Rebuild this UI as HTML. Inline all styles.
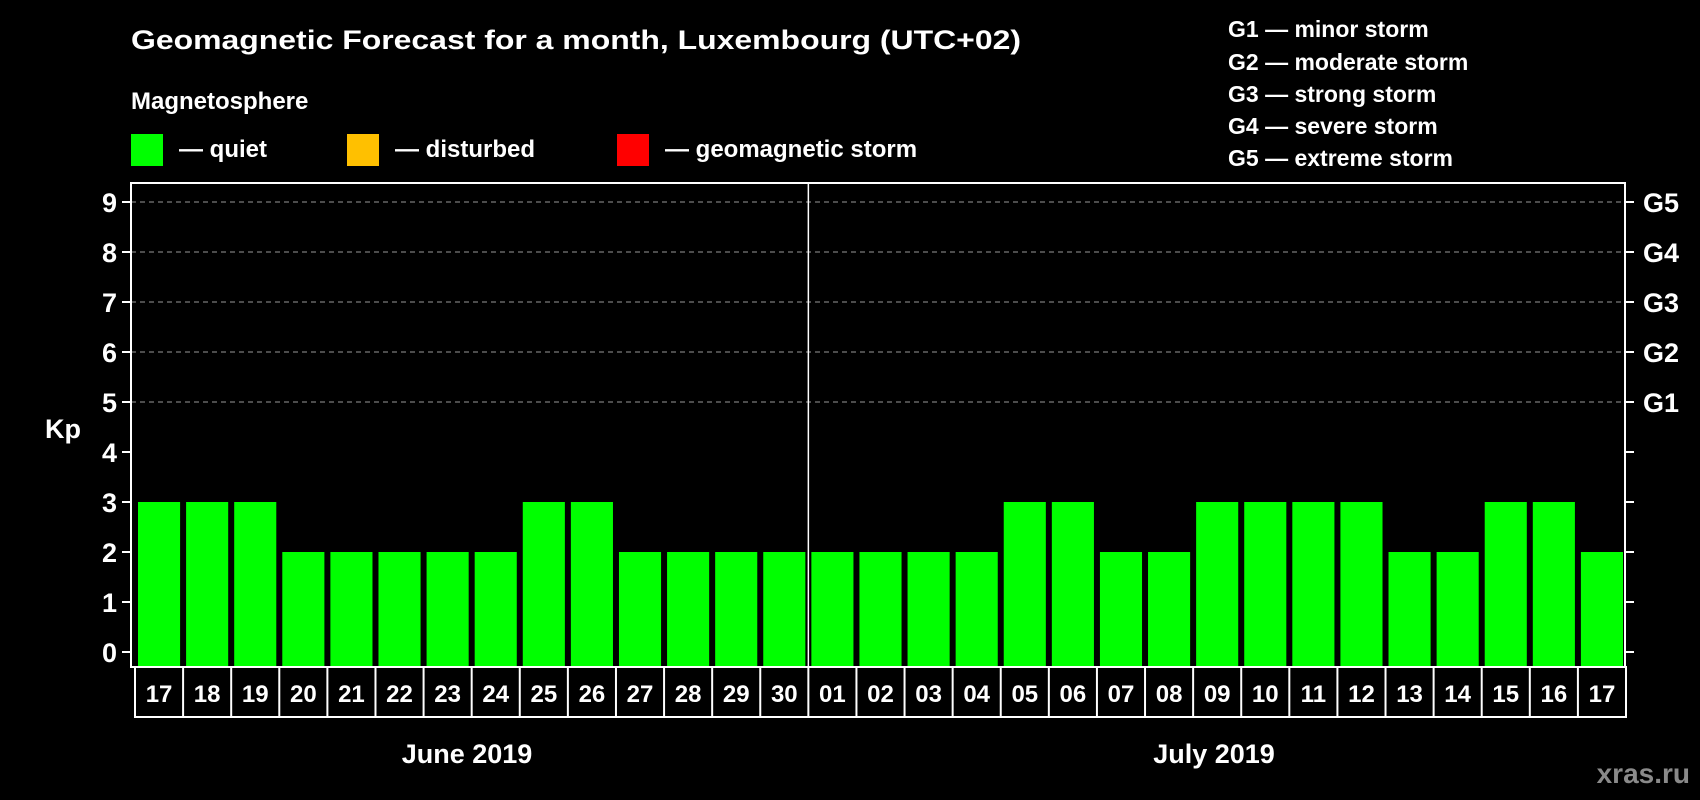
<!DOCTYPE html>
<html><head><meta charset="utf-8"><style>
html,body{margin:0;padding:0;background:#000;}
svg{display:block;font-family:"Liberation Sans",Arial,sans-serif;font-weight:bold;}
</style></head><body>
<svg id="chart" width="1700" height="800" viewBox="0 0 1700 800" xmlns="http://www.w3.org/2000/svg">
<rect x="0" y="0" width="1700" height="800" fill="#000"/>
<text x="131" y="49" fill="#fff" font-size="27" textLength="890" lengthAdjust="spacingAndGlyphs">Geomagnetic Forecast for a month, Luxembourg (UTC+02)</text>
<text x="131" y="109" fill="#fff" font-size="24">Magnetosphere</text>
<g>
<rect x="131" y="134" width="32" height="32" fill="#00ff00"/>
<text x="179" y="157" fill="#fff" font-size="24">— quiet</text></g>
<g>
<rect x="347" y="134" width="32" height="32" fill="#ffc000"/>
<text x="395" y="157" fill="#fff" font-size="24">— disturbed</text></g>
<g>
<rect x="617" y="134" width="32" height="32" fill="#ff0000"/>
<text x="665" y="157" fill="#fff" font-size="24">— geomagnetic storm</text></g>
<g fill="#fff" font-size="23">
<text x="1228" y="37">G1 — minor storm</text>
<text x="1228" y="70">G2 — moderate storm</text>
<text x="1228" y="102">G3 — strong storm</text>
<text x="1228" y="134">G4 — severe storm</text>
<text x="1228" y="166">G5 — extreme storm</text>
</g>
<text x="63" y="438" fill="#fff" font-size="27" text-anchor="middle">Kp</text>
<g id="grid"></g>
<g id="bars"></g>
<g id="axes"></g>
<text x="467" y="763" fill="#fff" font-size="27" text-anchor="middle">June 2019</text>
<text x="1214" y="763" fill="#fff" font-size="27" text-anchor="middle">July 2019</text>
<text x="1690" y="783" fill="#8a8a8a" font-size="28" text-anchor="end">xras.ru</text>
</svg>
<script>
const days = ["17","18","19","20","21","22","23","24","25","26","27","28","29","30","01","02","03","04","05","06","07","08","09","10","11","12","13","14","15","16","17"];
const kpValues = [3,3,3,2,2,2,2,2,3,3,2,2,2,2,2,2,2,2,3,3,2,2,3,3,3,3,2,2,3,3,2];
const yTicks = [0,1,2,3,4,5,6,7,8,9];
const gLabels = ["G1","G2","G3","G4","G5"];
const gLevels = [5,6,7,8,9];

const NS="http://www.w3.org/2000/svg";
const plotL=131, plotR=1625, plotT=183, plotB=667;
const cellL=135, cellW=(1626-135)/days.length;
function y(v){return 652 - v*50;}
function xCell(i){return cellL + i*cellW;}
function mk(tag, attrs, parent){const e=document.createElementNS(NS,tag);for(const k in attrs)e.setAttribute(k,attrs[k]);parent.appendChild(e);return e;}
const grid=document.getElementById('grid'), bars=document.getElementById('bars'), axes=document.getElementById('axes');

gLevels.forEach(function(v){
  const l=mk('line',{x1:plotL,x2:plotR,y1:y(v),y2:y(v),stroke:'#999','stroke-width':1,'stroke-dasharray':'5,4'},grid);
  
  
});

kpValues.forEach(function(v,i){
  const color = v>=5 ? '#ff0000' : (v>=4 ? '#ffc000' : '#00ff00');
  const r=mk('rect',{x:xCell(i)+3,y:y(v),width:cellW-6,height:plotB-y(v),fill:color},bars);
  
  
});

const frame=mk('rect',{x:plotL,y:plotT,width:plotR-plotL,height:plotB-plotT,fill:'none',stroke:'#fff','stroke-width':2},axes);


const mid=mk('line',{x1:xCell(14),x2:xCell(14),y1:plotT,y2:plotB,stroke:'#fff','stroke-width':1.5},axes);



yTicks.forEach(function(v){
  mk('line',{x1:plotL-9,x2:plotL,y1:y(v),y2:y(v),stroke:'#fff','stroke-width':2},axes);
  mk('line',{x1:plotR,x2:plotR+9,y1:y(v),y2:y(v),stroke:'#fff','stroke-width':2},axes);
  const t=mk('text',{x:plotL-14,y:y(v)+10,fill:'#fff','font-size':27,'text-anchor':'end'},axes);
  t.textContent=v;
  
  
});
gLabels.forEach(function(g,i){
  const t=mk('text',{x:plotR+18,y:y(gLevels[i])+10,fill:'#fff','font-size':27},axes);
  t.textContent=g;
  
  
});

const box=mk('rect',{x:cellL,y:plotB,width:cellW*days.length,height:50,fill:'none',stroke:'#fff','stroke-width':2},axes);


days.forEach(function(d,i){
  if(i>0) mk('line',{x1:xCell(i),x2:xCell(i),y1:plotB,y2:plotB+50,stroke:'#fff','stroke-width':2},axes);
  const t=mk('text',{x:xCell(i)+cellW/2,y:plotB+35,fill:'#fff','font-size':24,'text-anchor':'middle'},axes);
  t.textContent=d;
  
  
});
</script>
</body></html>
